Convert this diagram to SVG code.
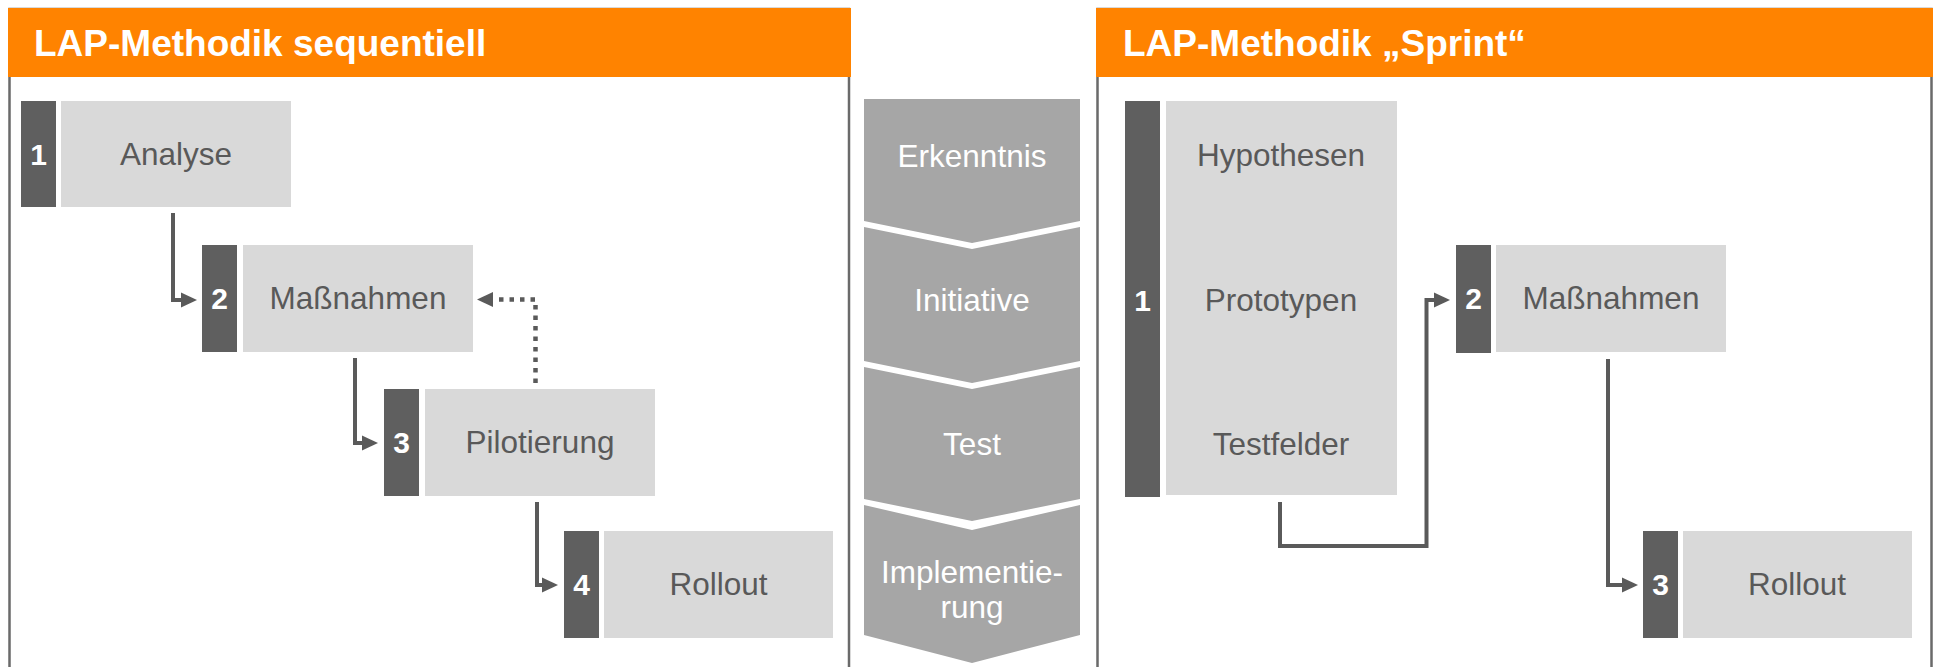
<svg xmlns="http://www.w3.org/2000/svg" width="1933" height="667" viewBox="0 0 1933 667">
<defs>
<marker id="arr" markerUnits="userSpaceOnUse" markerWidth="16" markerHeight="15" refX="0" refY="7.5" orient="auto" overflow="visible">
<path d="M0,0 L16,7.5 L0,15 Z" fill="#5a5a5a"/>
</marker>
<style>
.panel{fill:#ffffff;stroke:#6a6a6a;stroke-width:2.5}
.head{fill:#ff8300}
.title{font-family:"Liberation Sans",Arial,sans-serif;font-weight:bold;font-size:37px;fill:#ffffff}
.num{fill:#5f5f5f}
.box{fill:#d9d9d9}
.numt{font-family:"Liberation Sans",Arial,sans-serif;font-weight:bold;font-size:30px;fill:#ffffff;text-anchor:middle}
.lbl{font-family:"Liberation Sans",Arial,sans-serif;font-size:31.5px;fill:#595959;text-anchor:middle}
.chev{fill:#a6a6a6}
.ctxt{font-family:"Liberation Sans",Arial,sans-serif;font-size:31.5px;fill:#ffffff;text-anchor:middle}
.con{fill:none;stroke:#5a5a5a;stroke-width:4;stroke-linejoin:miter}
.dot{fill:none;stroke:#5a5a5a;stroke-width:4.5;stroke-dasharray:4.5 6}
</style>
</defs>
<rect width="1933" height="667" fill="#ffffff"/>

<g id="panel-left">
<rect class="panel" x="9.5" y="9" width="839.5" height="700"/>
<rect class="head" x="8" y="8" width="843" height="69"/>
<text class="title" x="34" y="56">LAP-Methodik sequentiell</text>
</g>

<g id="panel-right">
<rect class="panel" x="1097.5" y="9" width="834" height="700"/>
<rect class="head" x="1096" y="8" width="837" height="69"/>
<text class="title" x="1123" y="56">LAP-Methodik „Sprint“</text>
</g>

<g id="L1">
<rect class="num" x="21" y="101" width="35" height="106"/>
<rect class="box" x="61" y="101" width="230" height="106"/>
<text class="numt" x="38.5" y="165">1</text>
<text class="lbl" x="176" y="165">Analyse</text>
</g>
<g id="L2">
<rect class="num" x="202" y="245" width="35" height="107"/>
<rect class="box" x="243" y="245" width="230" height="107"/>
<text class="numt" x="219.5" y="309">2</text>
<text class="lbl" x="358" y="309">Maßnahmen</text>
</g>
<g id="L3">
<rect class="num" x="384" y="389" width="35" height="107"/>
<rect class="box" x="425" y="389" width="230" height="107"/>
<text class="numt" x="401.5" y="453">3</text>
<text class="lbl" x="540" y="453">Pilotierung</text>
</g>
<g id="L4">
<rect class="num" x="564" y="531" width="35" height="107"/>
<rect class="box" x="604" y="531" width="229" height="107"/>
<text class="numt" x="581.5" y="595">4</text>
<text class="lbl" x="718.5" y="595">Rollout</text>
</g>

<g id="chevrons">
<g id="C1">
<polygon class="chev" points="864,99 1080,99 1080,221 972,243 864,221"/>
<text class="ctxt" x="972" y="167">Erkenntnis</text>
</g>
<g id="C2">
<polygon class="chev" points="864,227 972,249 1080,227 1080,361 972,383 864,361"/>
<text class="ctxt" x="972" y="311">Initiative</text>
</g>
<g id="C3">
<polygon class="chev" points="864,367 972,389 1080,367 1080,499 972,521 864,499"/>
<text class="ctxt" x="972" y="455">Test</text>
</g>
<g id="C4">
<polygon class="chev" points="864,505 972,530 1080,505 1080,635 972,663 864,635"/>
<text class="ctxt" x="972" y="583">Implementie-</text>
<text class="ctxt" x="972" y="618">rung</text>
</g>
</g>

<g id="R1">
<rect class="num" x="1125" y="101" width="35" height="396"/>
<rect class="box" x="1166" y="101" width="231" height="394"/>
<text class="numt" x="1142.5" y="311">1</text>
<text class="lbl" x="1281" y="166">Hypothesen</text>
<text class="lbl" x="1281" y="311">Prototypen</text>
<text class="lbl" x="1281" y="455">Testfelder</text>
</g>
<g id="R2">
<rect class="num" x="1456" y="245" width="35" height="108"/>
<rect class="box" x="1496" y="245" width="230" height="107"/>
<text class="numt" x="1473.5" y="309">2</text>
<text class="lbl" x="1611" y="309">Maßnahmen</text>
</g>
<g id="R3">
<rect class="num" x="1643" y="531" width="35" height="107"/>
<rect class="box" x="1683" y="531" width="229" height="107"/>
<text class="numt" x="1660.5" y="595">3</text>
<text class="lbl" x="1797" y="595">Rollout</text>
</g>

<g id="connectors">
<path class="con" d="M173,213 V300 H181" marker-end="url(#arr)"/>
<path class="con" d="M355,358 V443 H362" marker-end="url(#arr)"/>
<path class="con" d="M537,502 V585 H542" marker-end="url(#arr)"/>
<path class="dot" d="M535.5,383 V299.5 H493" marker-end="url(#arr)"/>
<path class="con" d="M1280,502 V546 H1426.5 V300 H1434" marker-end="url(#arr)"/>
<path class="con" d="M1608,359 V585 H1622" marker-end="url(#arr)"/>
</g>
</svg>
